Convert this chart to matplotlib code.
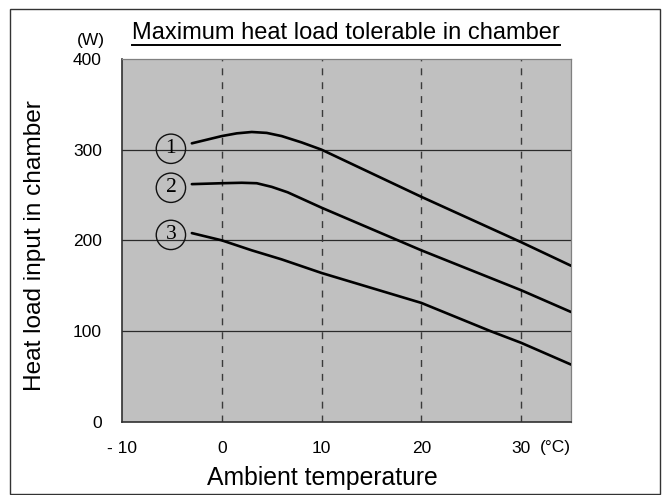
import matplotlib
matplotlib.use('Agg')
import matplotlib.pyplot as plt
from matplotlib.lines import Line2D
from matplotlib.patches import Rectangle

plt.rcParams['font.family'] = ['Liberation Sans', 'DejaVu Sans']

# curves (deg C -> W)
temp1 = [-3, -1.5, 0, 1.5, 3, 4.5, 6, 8, 10, 20, 30, 35]
load1 = [307, 311, 315, 318, 319.5, 318.5, 315, 308, 300, 248, 198, 172]
temp2 = [-3, 0, 2, 3.5, 5, 6.6, 8, 10, 20, 30, 35]
load2 = [262, 263, 263.5, 263, 259, 253, 246, 236, 189, 145, 121]
temp3 = [-3, 0, 3, 6, 10, 20, 26.9, 30, 35]
load3 = [208, 200, 189, 179, 164, 131, 100, 87, 63]
curve_tags = ['1', '2', '3']
tag_x = -5.1
tag_y = [301, 258, 206]

xticks = [-10, 0, 10, 20, 30]
xticklabels = ['- 10', '0', '10', '20', '30']
yticks = [0, 100, 200, 300, 400]

fig = plt.figure(figsize=(6.66, 4.95), dpi=100)
ax = fig.add_axes([0.1832, 0.1481, 0.6742, 0.7327])
ax.set_facecolor('#c0c0c0')
ax.set_xlim(-10, 35)
ax.set_ylim(0, 400)

for y in [100, 200, 300]:
    ax.axhline(y, color='#2a2a2a', lw=0.9, zorder=1)
for x in [0, 10, 20, 30]:
    ax.axvline(x, color='#3a3a3a', lw=1.0, ls=(0, (5, 5)), zorder=1)

for t, l in [(temp1, load1), (temp2, load2), (temp3, load3)]:
    ax.plot(t, l, color='black', lw=1.9, solid_capstyle='round',
            solid_joinstyle='round', zorder=3)

for tag, ty in zip(curve_tags, tag_y):
    ax.text(tag_x, ty, tag, ha='center', va='center', fontsize=15.5,
            family='Liberation Serif', zorder=4,
            bbox=dict(boxstyle='circle,pad=0.24', fc='none', ec='#111111', lw=1.0))

ax.set_xticks(xticks)
ax.set_xticklabels(xticklabels)
ax.set_yticks(yticks)
ax.tick_params(length=0, labelsize=12.5, colors='black')
ax.tick_params(axis='y', pad=14.5)
ax.tick_params(axis='x', pad=14)

for side in ['top', 'right']:
    ax.spines[side].set_color('#808080')
    ax.spines[side].set_linewidth(0.9)
for side in ['left', 'bottom']:
    ax.spines[side].set_color('#303030')
    ax.spines[side].set_linewidth(1.2)

ax.text(33.4, -28, '(°C)', ha='center', va='center', fontsize=12.5, clip_on=False)
ax.text(-13.1, 420.5, '(W)', ha='center', va='center', fontsize=12.5, clip_on=False)

fig.text(0.484, 0.034, 'Ambient temperature', ha='center', va='center', fontsize=17.8)
fig.text(0.053, 0.503, 'Heat load input in chamber', ha='center', va='center',
         rotation=90, fontsize=17.6)
title = fig.text(0.519, 0.933, 'Maximum heat load tolerable in chamber',
                 ha='center', va='center', fontsize=17)

# underline the title
fig.canvas.draw()
bb = title.get_window_extent().transformed(fig.transFigure.inverted())
fig.add_artist(Line2D([bb.x0, bb.x1], [bb.y0 - 0.001, bb.y0 - 0.001],
                      transform=fig.transFigure, color='black', lw=1.4))

# outer frame
fig.add_artist(Rectangle((0.015, 0.002), 0.976, 0.979, transform=fig.transFigure,
                         fill=False, ec='#333333', lw=1.0))

fig.savefig('out.png', dpi=100)
